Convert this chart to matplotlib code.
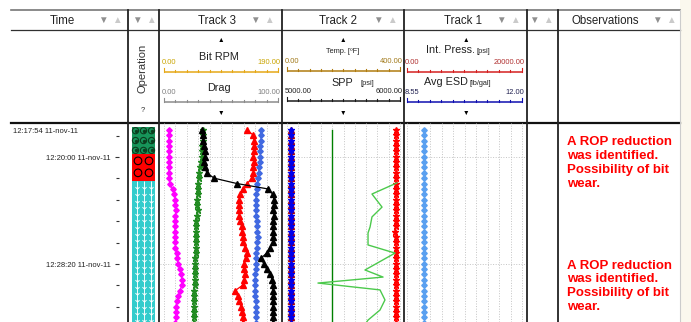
import matplotlib
matplotlib.use("Agg")
import matplotlib.pyplot as plt
import matplotlib.transforms as mtransforms
import numpy as np

plt.rcParams['font.family'] = ['Liberation Sans', 'DejaVu Sans']

W, H = 691, 322

# shared sample clock of the logged curves
sample_times = ["12:17:54", "12:18:19", "12:18:44", "12:19:09", "12:19:34", "12:19:59",
                "12:20:24", "12:20:49", "12:21:14", "12:21:39", "12:22:04", "12:22:29",
                "12:22:54", "12:23:19", "12:23:44", "12:24:09", "12:24:34", "12:24:59",
                "12:25:24", "12:25:49", "12:26:14", "12:26:39", "12:27:04", "12:27:29",
                "12:27:54", "12:28:19", "12:28:44", "12:29:09", "12:29:34", "12:29:59",
                "12:30:24", "12:30:49", "12:31:14", "12:31:39", "12:32:04", "12:32:29",
                "12:32:54"]

# Track 3 curves, % of track scale
t3_magenta = [4.5, 4.5, 4.0, 4.5, 4.5, 4.0, 4.5, 4.5, 4.0, 4.5,
              5.0, 7.5, 9.0, 10.0, 10.0, 10.5, 10.0, 10.0, 9.5,
              9.5, 9.5, 10.0, 10.0, 11.0, 11.5, 12.5, 14.0, 15.0, 16.0, 15.5,
              14.0, 12.5, 11.5, 10.5, 10.5, 10.5, 10.0]
t3_green = [34.0, 34.5, 34.0, 33.5, 33.5, 33.0, 32.5, 31.5, 31.0, 30.5,
            30.0, 30.0, 29.5, 29.0, 29.0, 29.5, 29.0, 28.5, 28.5,
            28.0, 28.0, 28.5, 28.0, 28.0, 27.5, 27.5, 27.5, 27.0, 27.0, 27.0,
            26.5, 26.5, 26.5, 26.0, 26.0, 26.0, 26.0]
t3_black = [33.0, 34.0, 34.5, 35.0, 36.0, 36.0, 35.0, 36.0, 37.5, 44.0,
            64.0, 91.0, 95.5, 96.5, 96.5, 96.0, 96.5, 96.0, 96.0,
            95.5, 95.5, 95.5, 93.0, 90.0, 85.0, 87.5, 90.0, 93.0, 95.0, 95.5,
            95.5, 95.5, 95.5, 95.5, 95.5, 95.5, 95.5]
t3_red = [73.0, 78.5, 79.0, 79.0, 79.0, 78.5, 79.0, 78.5, 78.5, 77.0,
          73.0, 69.0, 67.0, 66.0, 65.5, 66.0, 66.0, 67.0, 68.0,
          68.5, 69.0, 69.5, 71.0, 72.5, 71.5, 70.0, 70.5, 71.0, 70.5, 69.0,
          62.5, 64.5, 66.0, 67.5, 68.0, 69.0, 69.0]
t3_blue = [85.0, 85.0, 85.0, 84.5, 84.5, 84.5, 84.0, 83.5, 83.0, 82.5,
           82.0, 81.5, 81.0, 80.5, 80.5, 80.5, 81.0, 81.5, 82.0,
           82.0, 82.5, 82.0, 81.5, 81.0, 81.0, 80.5, 80.5, 80.0, 80.0, 79.5,
           80.0, 80.0, 80.5, 81.0, 81.0, 81.0, 81.0]

# Track 2 curves
t2_left = [3.5, 3.5, 3.5, 3.5, 3.5, 3.5, 3.5, 3.5, 3.5, 3.5,
           3.5, 3.5, 3.5, 3.5, 3.5, 3.5, 3.5, 3.5, 3.5,
           3.5, 3.5, 3.5, 3.5, 3.5, 3.5, 3.5, 3.5, 3.5, 3.5, 3.5,
           3.5, 3.5, 3.5, 3.5, 3.5, 3.5, 3.5]
t2_darkgreen = [40.0, 40.0, 40.0, 40.0, 40.0, 40.0, 40.0, 40.0, 40.0, 40.0,
                40.0, 40.0, 40.0, 40.0, 40.0, 40.0, 40.0, 40.0, 40.0,
                40.0, 40.0, 40.0, 40.0, 40.0, 40.0, 40.0, 40.0, 40.0, 40.0, 40.0,
                40.0, 40.0, 40.0, 40.0, 40.0, 40.0, 40.0]
t2_right = [96.5, 96.5, 96.5, 96.5, 96.5, 96.5, 96.5, 96.5, 96.5, 96.5,
            96.5, 96.5, 96.5, 96.5, 96.5, 96.5, 96.5, 96.5, 96.5,
            96.0, 96.5, 96.5, 96.5, 96.5, 96.5, 96.5, 96.5, 96.5, 96.5, 96.5,
            96.5, 96.5, 96.5, 96.5, 96.5, 96.5, 96.5]
lg_times = ["12:22:01", "12:22:53", "12:23:54", "12:24:40", "12:25:27", "12:25:55",
            "12:26:51", "12:27:29", "12:28:48", "12:29:21", "12:29:49", "12:30:21",
            "12:31:08", "12:31:55", "12:32:42", "12:33:10"]
t2_lightgreen = [97.3, 75.2, 84.1, 75.2, 73.5, 71.7, 71.7, 95.6, 69.0, 85.0,
                 27.4, 82.3, 86.7, 82.3, 71.7, 68.0]

# Track 1 curve
t1_lightblue = [14.8, 14.8, 14.8, 14.8, 14.8, 14.8, 14.8, 14.8, 14.8, 14.8,
                14.8, 14.8, 14.8, 14.8, 14.8, 14.8, 14.8, 14.8, 14.8,
                14.8, 14.8, 14.8, 14.8, 14.8, 14.8, 14.8, 14.8, 14.8, 14.8, 14.8,
                14.8, 14.8, 14.8, 14.8, 14.8, 14.8, 14.8]

# operation blocks
op_start = ["12:17:40", "12:19:46", "12:21:52"]
op_end = ["12:19:46", "12:21:52", "12:33:30"]
op_color = ["#17955a", "#ff0000", "#33cccc"]

obs_times = ["12:18:24", "12:27:59"]
obs_text = "A ROP reduction\nwas identified.\nPossibility of bit\nwear."


def secs(s):
    h, m, x = s.split(":")
    return (int(h) - 12) * 3600 + int(m) * 60 + int(x)


def fmt_time(v, pos=None):
    v = int(round(v))
    return "%02d:%02d:%02d 11-nov-11" % (12 + v // 3600, (v % 3600) // 60, v % 60)


ts = np.array([secs(s) for s in sample_times])
t_top, t_bot = 1041.1, 1971.0

fig = plt.figure(figsize=(W / 100, H / 100), dpi=100)
fig.patch.set_facecolor("white")

# background / chrome in pixel coordinates
bg = fig.add_axes([0, 0, 1, 1])
bg.set_xlim(0, W)
bg.set_ylim(H, 0)
bg.axis("off")
bg.add_patch(plt.Rectangle((680, 0), 11, H, color="#fbf8ee", lw=0))
bg.plot([11, 680], [10, 10], color="#777777", lw=1.2)
bg.plot([11, 680], [30, 30], color="#303030", lw=0.9)
bg.plot([11, 680], [123, 123], color="#111111", lw=1.6)
for x in [128, 159, 282, 404, 527, 558]:
    bg.plot([x, x], [10, H], color="#222222", lw=1.3)
bg.plot([680, 680], [10, H], color="#cccccc", lw=0.8)

# header row
heads = [("Time", 62), ("Track 3", 217), ("Track 2", 338), ("Track 1", 463), ("Observations", 605)]
for txt, x in heads:
    bg.text(x, 20.5, txt, ha="center", va="center", fontsize=8.3, color="#222222")
for x in [103, 137, 255, 378, 501, 534, 657]:
    bg.text(x, 20, "\u25bc", ha="center", va="center", fontsize=7, color="#8f8f8f")
    bg.text(x + 14, 19.5, "\u25b2", ha="center", va="center", fontsize=7, color="#cacaca")

bg.text(143, 68, "Operation", rotation=90, ha="center", va="center", fontsize=8, color="#333333")
bg.text(143, 110, "?", ha="center", va="center", fontsize=5.5, color="#333333")

for x in [221, 343, 466]:
    bg.text(x, 40, "\u25b2", ha="center", va="center", fontsize=4.8, color="black")
    bg.text(x, 113, "\u25bc", ha="center", va="center", fontsize=4.8, color="black")


def scale_bar(x0, x1, y, color, lo, hi, lab_color):
    bg.plot([x0, x1], [y, y], color=color, lw=1.1, solid_capstyle="butt")
    for k in range(11):
        xk = x0 + (x1 - x0) * k / 10
        h = 4 if k in (0, 10) else 2
        bg.plot([xk, xk], [y, y - h], color=color, lw=0.8)
    bg.text(x0 - 2, y - 10, lo, ha="left", va="center", fontsize=5.4, color=lab_color)
    bg.text(x1 + 2.5, y - 10, hi, ha="right", va="center", fontsize=5.4, color=lab_color)


scale_bar(164, 278, 72, "#e6a817", "0.00", "190.00", "#c9a400")
scale_bar(164, 278, 102, "#8c8c8c", "0.00", "100.00", "#808080")
scale_bar(287, 400, 71, "#b07c10", "0.00", "400.00", "#a07818")
scale_bar(287, 400, 101, "#1a1a1a", "5000.00", "6000.00", "#202020")
scale_bar(407, 522, 72, "#d42020", "0.00", "20000.00", "#b03030")
scale_bar(407, 522, 102, "#1010b0", "8.55", "12.00", "#202050")

bg.text(219, 57, "Bit RPM", ha="center", va="center", fontsize=7.8, color="#222222")
bg.text(219, 88, "Drag", ha="center", va="center", fontsize=7.8, color="#222222")
bg.text(343, 51, "Temp. [\u00baF]", ha="center", va="center", fontsize=5.3, color="#222222")
bg.text(353, 83, "SPP", ha="right", va="center", fontsize=7.8, color="#222222")
bg.text(361, 83, "[psi]", ha="left", va="center", fontsize=5.3, color="#222222")
bg.text(475, 50, "Int. Press.", ha="right", va="center", fontsize=7.8, color="#222222")
bg.text(477, 51, "[psi]", ha="left", va="center", fontsize=5.3, color="#222222")
bg.text(468, 82, "Avg ESD", ha="right", va="center", fontsize=7.8, color="#222222")
bg.text(470, 83, "[lb/gal]", ha="left", va="center", fontsize=5.3, color="#222222")

bg.text(13, 131, fmt_time(secs(sample_times[0])), ha="left", va="center", fontsize=5.5, color="#222222")

top_frac = 1 - 123 / H


def col_axes(c0, c1):
    ax = fig.add_axes([c0 / W, 0, (c1 - c0) / W, top_frac])
    ax.set_facecolor("none")
    ax.set_ylim(t_bot, t_top)
    for s in ax.spines.values():
        s.set_visible(False)
    return ax


def track_axes(c0, c1, s0, s1):
    ax = col_axes(c0, c1)
    k = (s1 - s0) / 100
    ax.set_xlim(-(s0 - c0) / k, 100 + (c1 - s1) / k)
    ax.set_xticks(np.arange(0, 101, 10))
    ax.set_yticks([1200, 1700])
    ax.grid(True, ls=":", color="#c4c4c4", lw=0.7)
    ax.tick_params(length=0, labelbottom=False, labelleft=False)
    ax.set_axisbelow(True)
    return ax


# time scale
ax_t = fig.add_axes([119 / W, 0, 9 / W, top_frac])
ax_t.set_facecolor("none")
ax_t.set_ylim(t_bot, t_top)
for s in ax_t.spines.values():
    s.set_visible(False)
ax_t.set_xticks([])
ax_t.set_yticks([1200, 1700])
ax_t.set_yticks([1100, 1300, 1400, 1500, 1600, 1800, 1900], minor=True)
ax_t.yaxis.set_major_formatter(plt.FuncFormatter(fmt_time))
ax_t.tick_params(axis="y", which="major", length=3.2, width=0.8, color="#333333",
                 pad=3.0, labelsize=5.5, labelcolor="#222222")
ax_t.tick_params(axis="y", which="minor", length=2.2, width=0.8, color="#333333")

# operation column
ax_op = col_axes(128, 159)
ax_op.set_xlim(0, 31)
ax_op.set_xticks([])
ax_op.set_yticks([])
for a, b, c in zip(op_start, op_end, op_color):
    ax_op.bar(15.5, secs(b) - secs(a), bottom=secs(a), width=23, color=c, lw=0)
g0, g1 = secs(op_start[0]), secs(op_end[0])
gy = np.linspace(g0 + 17, g1 - 17, 3)
gx, gyy = np.meshgrid([7.5, 15.5, 23.5], gy)
ax_op.scatter(gx.ravel(), gyy.ravel(), s=20, facecolors="none", edgecolors="#0b3d1e", lw=0.8)
ax_op.scatter(gx.ravel(), gyy.ravel(), s=2, color="#0b3d1e")
r0, r1 = secs(op_start[1]), secs(op_end[1])
rx, ry = np.meshgrid([10, 21], [r0 + 32, r1 - 38])
ax_op.scatter(rx.ravel(), ry.ravel(), s=30, facecolors="none", edgecolors="black", lw=0.8)
c0 = secs(op_start[2])
ay = np.arange(c0 + 20, t_bot + 30, 31)
axx, ayy = np.meshgrid([8.5, 15.5, 22.5], ay)
ax_op.scatter(axx.ravel(), ayy.ravel(), s=34, marker=r"$\downarrow$", color="white", lw=0)

# Track 3
ax3 = track_axes(160, 281, 164, 278)
ax3.plot(t3_magenta, ts, color="#ff00ff", marker="D", ms=2.8, lw=0.9)
ax3.plot(t3_green, ts, color="#228b22", marker="*", ms=4.8, lw=0.9)
ax3.plot(t3_red, ts, color="#ff0000", marker="^", ms=3.8, lw=0.9)
ax3.plot(t3_blue, ts, color="#4169e1", marker="D", ms=2.8, lw=0.9)
ax3.plot(t3_black, ts, color="#000000", marker="^", ms=3.8, lw=0.9)

# Track 2
ax2 = track_axes(283, 403, 287, 400)
ax2.plot(t2_left, ts, color="#b00000", marker="^", ms=3.8, lw=0.9)
ax2.plot(t2_left, ts, color="#0000ee", marker="*", ms=4.4, lw=0.9)
ax2.plot(t2_darkgreen, ts, color="#008000", lw=1.0)
ax2.plot(t2_right, ts, color="#ff0000", marker="*", ms=4.8, lw=0.9)
ax2.plot(t2_lightgreen, [secs(s) for s in lg_times], color="#4cc94c", lw=1.0)

# Track 1
ax1 = track_axes(405, 526, 407, 522)
ax1.plot(t1_lightblue, ts, color="#5aa0f0", marker="D", ms=2.8, lw=0.9)

# Observations
ax_o = col_axes(559, 680)
ax_o.set_xlim(0, 1)
ax_o.set_xticks([])
ax_o.set_yticks([])
trans = mtransforms.blended_transform_factory(ax_o.transAxes, ax_o.transData)
for t in obs_times:
    ax_o.text(8 / 121, secs(t), obs_text, transform=trans, ha="left", va="top",
              fontsize=9.5, fontweight="bold", color="#ff0000")

fig.savefig("out.png", dpi=100, facecolor=fig.get_facecolor())
